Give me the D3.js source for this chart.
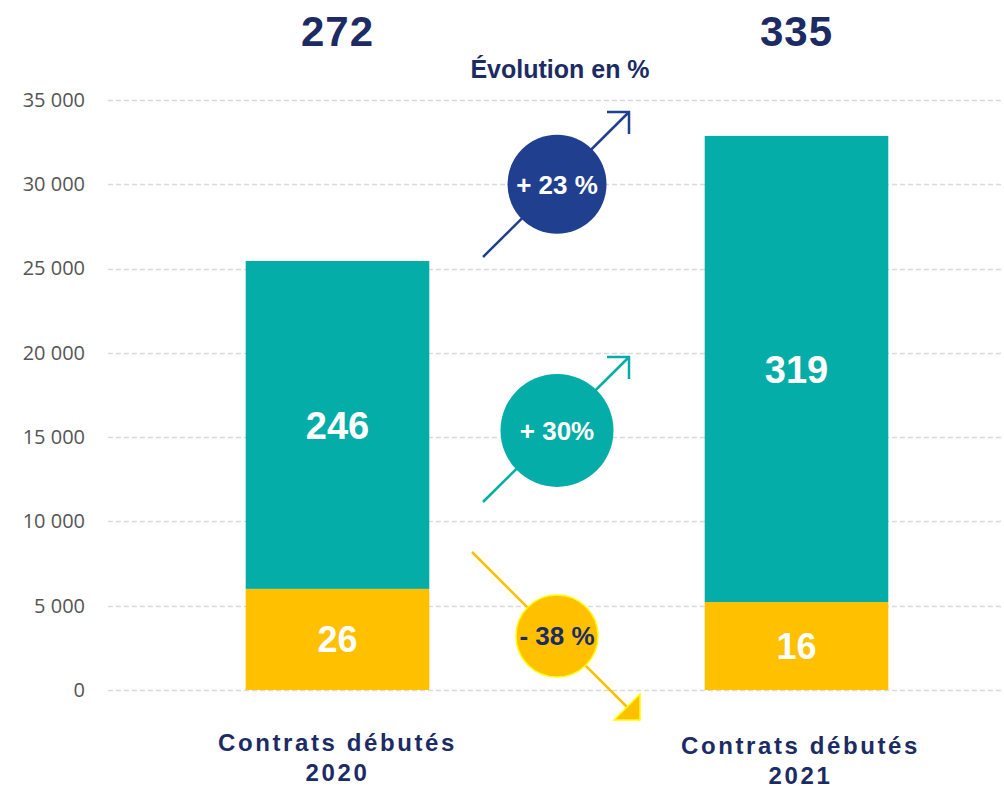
<!DOCTYPE html>
<html>
<head>
<meta charset="utf-8">
<script src="https://cdn.jsdelivr.net/npm/d3@7"></script>
<style>
  body { margin: 0; background: #fff; }
  svg text { font-family: "Liberation Sans", Arial, sans-serif; }
</style>
</head>
<body>
<div id="chart"></div>
<script>
// data
var categories = ["2020", "2021"];
var catLabel = "Contrats débutés";
var yellowValues = [6000, 5220];      // bottom segment
var tealValues = [19450, 27650];      // top segment
var yellowLabels = ["26", "16"];
var tealLabels = ["246", "319"];
var totalLabels = ["272", "335"];
var yTicks = [0, 5000, 10000, 15000, 20000, 25000, 30000, 35000];
var evoTitle = "Évolution en %";
var evoLabels = ["+ 23 %", "+ 30%", "- 38 %"];

var width = 1004, height = 789;
var navy = "#1c2b63", teal = "#04ada8", yellow = "#ffc000", blue = "#213f8f";

var svg = d3.select("#chart").append("svg")
  .attr("width", width)
  .attr("height", height);

var y = d3.scaleLinear().domain([0, 35000]).range([690, 100]);
var x = d3.scaleBand().domain(categories)
  .range([108, 1026])
  .paddingInner(0.6)
  .paddingOuter(0.3);

// gridlines
svg.selectAll("line.grid")
  .data(yTicks)
  .enter().append("line")
  .attr("class", "grid")
  .attr("x1", 108).attr("x2", width)
  .attr("y1", function (d) { return Math.round(y(d)) + 0.5; })
  .attr("y2", function (d) { return Math.round(y(d)) + 0.5; })
  .attr("stroke", "#d9d9d9")
  .attr("stroke-width", 1.5)
  .attr("stroke-dasharray", "5,3");

// y axis labels
var yAxis = svg.append("g")
  .attr("transform", "translate(85,0)")
  .call(d3.axisLeft(y).tickValues(yTicks).tickSize(0).tickPadding(0)
    .tickFormat(function (d) { return d3.format(",")(d).replace(",", " "); }));
yAxis.select(".domain").remove();
yAxis.selectAll("text")
  .style("font-family", "'Open Sans', sans-serif")
  .style("font-size", "20px")
  .attr("fill", "#555555");

// stacked bars
var stack = categories.map(function (c, i) {
  return { cat: c, y0: 0, y1: yellowValues[i], y2: yellowValues[i] + tealValues[i], i: i };
});

svg.selectAll("rect.yellow")
  .data(stack)
  .enter().append("rect")
  .attr("x", function (d) { return x(d.cat); })
  .attr("width", x.bandwidth())
  .attr("y", function (d) { return y(d.y1); })
  .attr("height", function (d) { return y(0) - y(d.y1); })
  .attr("fill", yellow);

svg.selectAll("rect.teal")
  .data(stack)
  .enter().append("rect")
  .attr("x", function (d) { return x(d.cat); })
  .attr("width", x.bandwidth())
  .attr("y", function (d) { return y(d.y2); })
  .attr("height", function (d) { return y(d.y1) - y(d.y2); })
  .attr("fill", teal);

// segment labels
svg.selectAll("text.tl")
  .data(stack)
  .enter().append("text")
  .attr("x", function (d) { return x(d.cat) + x.bandwidth() / 2; })
  .attr("y", function (d) { return (y(d.y1) + y(d.y2)) / 2; })
  .attr("dy", "0.36em")
  .attr("text-anchor", "middle")
  .attr("fill", "#fff")
  .style("font-size", "38px").style("font-weight", "bold")
  .text(function (d) { return tealLabels[d.i]; });

svg.selectAll("text.yl")
  .data(stack)
  .enter().append("text")
  .attr("x", function (d) { return x(d.cat) + x.bandwidth() / 2; })
  .attr("y", function (d) { return (y(0) + y(d.y1)) / 2; })
  .attr("dy", "0.36em")
  .attr("text-anchor", "middle")
  .attr("fill", "#fff")
  .style("font-size", "36px").style("font-weight", "bold")
  .text(function (d) { return yellowLabels[d.i]; });

// totals on top
svg.selectAll("text.total")
  .data(stack)
  .enter().append("text")
  .attr("x", function (d) { return x(d.cat) + x.bandwidth() / 2; })
  .attr("y", 46)
  .attr("text-anchor", "middle")
  .attr("fill", navy)
  .style("font-size", "42px").style("font-weight", "bold")
  .style("letter-spacing", "1px")
  .text(function (d) { return totalLabels[d.i]; });

// category labels
var cat = svg.selectAll("g.cat")
  .data(stack)
  .enter().append("g")
  .attr("transform", function (d, i) {
    return "translate(" + (x(d.cat) + x.bandwidth() / 2 + (i ? 4 : 0)) + "," + (i ? 754 : 751) + ")";
  });
cat.append("text")
  .attr("text-anchor", "middle")
  .attr("fill", navy)
  .style("font-size", "24px").style("font-weight", "bold")
  .style("letter-spacing", "2.6px")
  .text(catLabel);
cat.append("text")
  .attr("y", 30)
  .attr("text-anchor", "middle")
  .attr("fill", navy)
  .style("font-size", "24px").style("font-weight", "bold")
  .style("letter-spacing", "2.6px")
  .text(function (d) { return d.cat; });

svg.append("text")
  .attr("x", 560).attr("y", 78)
  .attr("text-anchor", "middle")
  .attr("fill", navy)
  .style("font-size", "25px").style("font-weight", "bold")
  .text(evoTitle);

// evolution badges
var evo = [
  { label: evoLabels[0], cy: 30000, r: 49.5, fill: blue, color: "#fff", stroke: blue,
    from: [483, 257], to: [629, 112], up: true },
  { label: evoLabels[1], cy: 15400, r: 56.5, fill: teal, color: "#fff", stroke: teal,
    from: [483, 502], to: [629, 357], up: true },
  { label: evoLabels[2], cy: 3200, r: 41, fill: yellow, color: navy, stroke: yellow,
    from: [472, 552], to: [640, 720], up: false }
];

evo.forEach(function (e) {
  var g = svg.append("g");
  g.append("line")
    .attr("x1", e.from[0]).attr("y1", e.from[1])
    .attr("x2", e.to[0]).attr("y2", e.to[1])
    .attr("stroke", e.stroke).attr("stroke-width", 2.5);
  if (e.up) {
    g.append("path")
      .attr("d", "M" + (e.to[0] - 22) + "," + e.to[1] + "L" + e.to[0] + "," + e.to[1] + "L" + e.to[0] + "," + (e.to[1] + 22))
      .attr("fill", "none").attr("stroke", e.stroke).attr("stroke-width", 2.5);
  } else {
    g.append("path")
      .attr("d", "M" + e.to[0] + "," + (e.to[1] - 26) + "L" + e.to[0] + "," + e.to[1] + "L" + (e.to[0] - 26) + "," + e.to[1] + "Z")
      .attr("fill", yellow).attr("stroke", "#ffff00").attr("stroke-width", 1.5);
  }
  g.append("circle")
    .attr("cx", 557).attr("cy", y(e.cy)).attr("r", e.r)
    .attr("fill", e.fill)
    .attr("stroke", e.up ? "none" : "#ffff00").attr("stroke-width", 1.5);
  g.append("text")
    .attr("x", 557).attr("y", y(e.cy)).attr("dy", "0.36em")
    .attr("text-anchor", "middle")
    .attr("fill", e.color)
    .style("font-size", "26px").style("font-weight", "bold")
    .text(e.label);
});
</script>
</body>
</html>
